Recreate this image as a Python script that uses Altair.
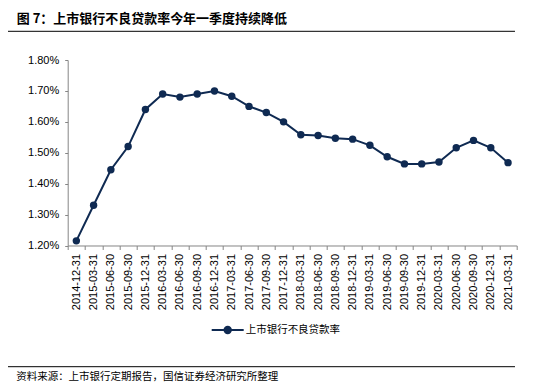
import altair as alt
import pandas as pd

dates = ["2014-12-31", "2015-03-31", "2015-06-30", "2015-09-30", "2015-12-31",
         "2016-03-31", "2016-06-30", "2016-09-30", "2016-12-31", "2017-03-31",
         "2017-06-30", "2017-09-30", "2017-12-31", "2018-03-31", "2018-06-30",
         "2018-09-30", "2018-12-31", "2019-03-31", "2019-06-30", "2019-09-30",
         "2019-12-31", "2020-03-31", "2020-06-30", "2020-09-30", "2020-12-31",
         "2021-03-31"]
npl_pct = [1.215, 1.33, 1.445, 1.52, 1.64, 1.69, 1.68, 1.69, 1.70, 1.683,
           1.65, 1.63, 1.60, 1.558, 1.556, 1.547, 1.544, 1.524, 1.487, 1.464,
           1.464, 1.47, 1.516, 1.54, 1.516, 1.468]
series_name = "上市银行不良贷款率"
y_ticks = [0.012, 0.013, 0.014, 0.015, 0.016, 0.017, 0.018]
title_text = "图 7：上市银行不良贷款率今年一季度持续降低"
source_text = "资料来源：上市银行定期报告，国信证券经济研究所整理"

NAVY = "#0f2a52"
CJK = "Noto Sans CJK SC"
LAT = "Liberation Sans"

df = pd.DataFrame({"date": dates, "value": [v / 100 for v in npl_pct], "series": series_name})

x_enc = alt.X("date:N", sort=dates, title=None,
              scale=alt.Scale(type="band", paddingInner=0, paddingOuter=0),
              axis=alt.Axis(labelAngle=270, labelFont=LAT, labelFontSize=11, labelColor="#000000",
                            tickBand="extent", tickSize=4, tickColor="#868686",
                            domainColor="#868686", labelPadding=4, grid=False))
y_enc = alt.Y("value:Q", title=None,
              scale=alt.Scale(domain=[0.012, 0.018], nice=False, zero=False),
              axis=alt.Axis(values=y_ticks, format=".2%", labelFont=LAT, labelFontSize=11,
                            labelColor="#000000", tickSize=3, tickColor="#868686",
                            domainColor="#868686", labelPadding=6, grid=False))
color_enc = alt.Color("series:N", title=None,
                      scale=alt.Scale(range=[NAVY]),
                      legend=alt.Legend(orient="none", legendX=143, legendY=253,
                                        symbolType="M-1,0H1M-0.2,0A0.2,0.2,0,1,0,0.2,0A0.2,0.2,0,1,0,-0.2,0Z",
                                        symbolSize=1024, symbolStrokeWidth=2,
                                        symbolFillColor=NAVY, symbolStrokeColor=NAVY,
                                        labelFont=CJK, labelFontSize=10.5, labelColor="#000000",
                                        labelOffset=1, padding=0))

base = alt.Chart(df)
line = base.mark_line(strokeWidth=2).encode(x=x_enc, y=y_enc, color=color_enc)
pts = base.mark_point(filled=True, size=55, opacity=1).encode(x=x_enc, y=y_enc, color=color_enc)

one = pd.DataFrame({"t": [title_text]})
title = alt.Chart(one).mark_text(font=CJK, fontSize=13, fontWeight="bold", align="left",
                                 baseline="middle", color="#000000").encode(
    text="t:N", x=alt.value(-51), y=alt.value(-41))
src = alt.Chart(pd.DataFrame({"t": [source_text]})).mark_text(
    font=CJK, fontSize=10.5, align="left", baseline="middle", color="#000000").encode(
    text="t:N", x=alt.value(-51.5), y=alt.value(317.5))

rule_df = pd.DataFrame({"k": [0]})
r1 = alt.Chart(rule_df).mark_rule(color="#000000", strokeWidth=1).encode(
    x=alt.value(-59.7), x2=alt.value(447.3), y=alt.value(-52.7))
r2 = alt.Chart(rule_df).mark_rule(color="#000000", strokeWidth=1).encode(
    x=alt.value(-59.7), x2=alt.value(447.3), y=alt.value(-28.7))
r3 = alt.Chart(rule_df).mark_rule(color="#000000", strokeWidth=1).encode(
    x=alt.value(-59.7), x2=alt.value(447.3), y=alt.value(306.7))

chart = alt.layer(line, pts, title, src, r1, r2, r3).properties(
    width=449, height=185.5,
    autosize=alt.AutoSizeParams(type="none"),
    padding={"left": 59.7, "top": 52, "right": 20, "bottom": 138.5},
).configure_view(stroke=None)

chart.save("out.html", embed_options={"renderer": "svg", "actions": False})
